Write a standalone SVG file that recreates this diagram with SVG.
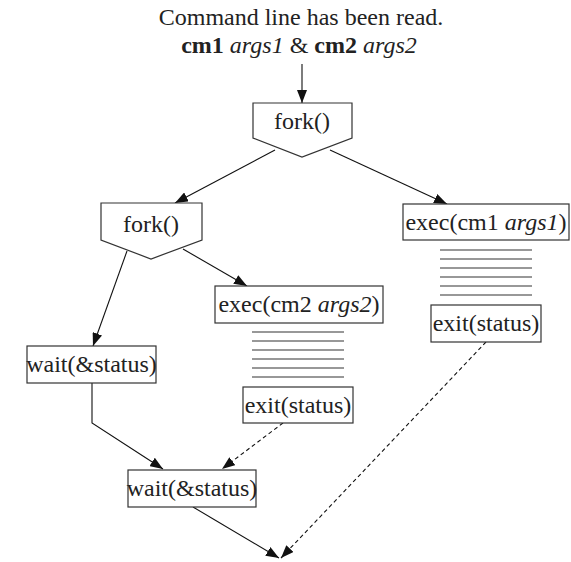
<svg xmlns="http://www.w3.org/2000/svg" width="571" height="562" viewBox="0 0 571 562">
  <style>
    .box { fill: #fff; stroke: #333; stroke-width: 1.2; }
    .t { font-family: "Liberation Serif", "Times New Roman", serif; font-size: 24px; fill: #222; text-anchor: middle; }
    .hatch { stroke: #333; stroke-width: 1.2; }
    .edge { fill: none; stroke: #111; stroke-width: 1.1; }
    .dash { stroke-dasharray: 4 3; }
    .b { font-weight: bold; }
    .i { font-style: italic; }
  </style>
  <defs>
    <marker id="arrow" markerUnits="userSpaceOnUse" markerWidth="14" markerHeight="10" refX="13" refY="5" orient="auto">
      <path d="M0,0 L13,5 L0,10 Z" fill="#111"/>
    </marker>
  </defs>

  <g id="title">
    <text class="t" x="301" y="25">Command line has been read.</text>
    <text class="t" x="299" y="53"><tspan class="b">cm1</tspan> <tspan class="i">args1</tspan> &amp; <tspan class="b">cm2</tspan> <tspan class="i">args2</tspan></text>
  </g>

  <g id="connectors">
    <line class="edge" x1="302" y1="64" x2="302" y2="103" marker-end="url(#arrow)"/>
    <line class="edge" x1="275" y1="150" x2="175" y2="203" marker-end="url(#arrow)"/>
    <line class="edge" x1="330" y1="150" x2="447" y2="204" marker-end="url(#arrow)"/>
    <line class="edge" x1="127" y1="251" x2="93" y2="346" marker-end="url(#arrow)"/>
    <line class="edge" x1="183" y1="249" x2="247" y2="286" marker-end="url(#arrow)"/>
    <polyline class="edge" points="92,383 92,423 163,469" marker-end="url(#arrow)"/>
    <line class="edge dash" x1="283" y1="423" x2="222" y2="469" marker-end="url(#arrow)"/>
    <line class="edge dash" x1="486" y1="342" x2="281" y2="558" marker-end="url(#arrow)"/>
    <line class="edge" x1="193" y1="507" x2="279" y2="558" marker-end="url(#arrow)"/>
  </g>

  <g id="fork1">
    <polygon class="box" points="253,103 352,103 352,138 302,157 253,138"/>
    <text class="t" x="302" y="129">fork()</text>
  </g>

  <g id="fork2">
    <polygon class="box" points="101,203 202,203 202,240 151,259 101,240"/>
    <text class="t" x="151" y="232">fork()</text>
  </g>

  <g id="exec-cm1">
    <rect class="box" x="403" y="204" width="166" height="36"/>
    <text class="t" x="486" y="230">exec(cm1 <tspan class="i">args1</tspan>)</text>
    <g class="hatch">
      <line x1="440" y1="250" x2="532" y2="250"/>
      <line x1="440" y1="259" x2="532" y2="259"/>
      <line x1="440" y1="268" x2="532" y2="268"/>
      <line x1="440" y1="277" x2="532" y2="277"/>
      <line x1="440" y1="286" x2="532" y2="286"/>
      <line x1="440" y1="295" x2="532" y2="295"/>
    </g>
  </g>

  <g id="exit-cm1">
    <rect class="box" x="431" y="305" width="110" height="37"/>
    <text class="t" x="486" y="331">exit(status)</text>
  </g>

  <g id="exec-cm2">
    <rect class="box" x="215" y="286" width="168" height="37"/>
    <text class="t" x="299" y="312">exec(cm2 <tspan class="i">args2</tspan>)</text>
    <g class="hatch">
      <line x1="252" y1="332" x2="344" y2="332"/>
      <line x1="252" y1="341" x2="344" y2="341"/>
      <line x1="252" y1="350" x2="344" y2="350"/>
      <line x1="252" y1="359" x2="344" y2="359"/>
      <line x1="252" y1="368" x2="344" y2="368"/>
      <line x1="252" y1="377" x2="344" y2="377"/>
    </g>
  </g>

  <g id="exit-cm2">
    <rect class="box" x="243" y="387" width="110" height="36"/>
    <text class="t" x="298" y="413">exit(status)</text>
  </g>

  <g id="wait1">
    <rect class="box" x="27" y="346" width="129" height="37"/>
    <text class="t" x="91.5" y="372">wait(&amp;status)</text>
  </g>

  <g id="wait2">
    <rect class="box" x="128" y="470" width="128" height="37"/>
    <text class="t" x="192" y="496">wait(&amp;status)</text>
  </g>
</svg>
